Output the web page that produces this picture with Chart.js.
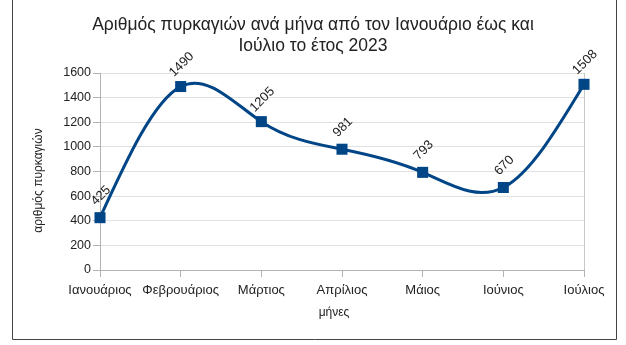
<!DOCTYPE html>
<html>
<head>
<meta charset="utf-8">
<script src="https://cdn.jsdelivr.net/npm/chart.js@4"></script>
<style>
  html, body { margin: 0; padding: 0; background: #fff; }
  #wrap { width: 626px; height: 345px; }
</style>
</head>
<body>
<div id="wrap"><canvas id="myChart" width="626" height="345"></canvas></div>
<script>
const months = ["Ιανουάριος", "Φεβρουάριος", "Μάρτιος", "Απρίλιος", "Μάιος", "Ιούνιος", "Ιούλιος"];
const fires = [425, 1490, 1205, 981, 793, 670, 1508];
const yTicks = [0, 200, 400, 600, 800, 1000, 1200, 1400, 1600];

const chartTitle = ["Αριθμός πυρκαγιών ανά μήνα από τον Ιανουάριο έως και", "Ιούλιο το έτος 2023"];
const xTitle = "μήνες";
const yTitle = "αριθμός πυρκαγιών";

const lineColor = "#004586";
const textColor = "#222";
const fontName = "'Liberation Sans', Arial, sans-serif";

// white page plus the thin frame round the chart
const framePlugin = {
  id: "frame",
  beforeDraw(chart) {
    const ctx = chart.ctx;
    ctx.save();
    ctx.fillStyle = "#fff";
    ctx.fillRect(0, 0, chart.width, chart.height);
    ctx.strokeStyle = "#444";
    ctx.lineWidth = 1;
    ctx.beginPath();
    ctx.moveTo(12.5, 0);
    ctx.lineTo(12.5, 339.5);
    ctx.lineTo(616.5, 339.5);
    ctx.lineTo(616.5, 0);
    ctx.stroke();
    ctx.restore();
  }
};

// the original uses a natural cubic spline; swap chart.js's control points for one
const naturalSpline = {
  id: "naturalSpline",
  beforeDatasetsDraw(chart) {
    const meta = chart.getDatasetMeta(0);
    const pts = meta.data;
    const n = pts.length - 1;
    if (n < 2) return;
    meta.dataset.updateControlPoints(chart.chartArea, "x");
    const h = (pts[n].x - pts[0].x) / n;
    const y = pts.map((p) => p.y);
    // M[i-1] + 4M[i] + M[i+1] = 6(y[i-1] - 2y[i] + y[i+1]) / h^2, ends zero
    const M = new Array(n + 1).fill(0);
    const c = [], d = [];
    for (let i = 1; i < n; i++) {
      const rhs = (6 * (y[i - 1] - 2 * y[i] + y[i + 1])) / (h * h);
      const den = 4 - (i > 1 ? c[i - 1] : 0);
      c[i] = 1 / den;
      d[i] = (rhs - (i > 1 ? d[i - 1] : 0)) / den;
    }
    for (let i = n - 1; i >= 1; i--) {
      M[i] = d[i] - c[i] * M[i + 1];
    }
    pts.forEach((p, i) => {
      let slope;
      if (i < n) {
        slope = (y[i + 1] - y[i]) / h - (h * (2 * M[i] + M[i + 1])) / 6;
      } else {
        slope = (y[n] - y[n - 1]) / h + (h * (M[n - 1] + 2 * M[n])) / 6;
      }
      p.cp1x = p.x - h / 3;
      p.cp1y = p.y - (slope * h) / 3;
      p.cp2x = p.x + h / 3;
      p.cp2y = p.y + (slope * h) / 3;
    });
    meta.dataset._path = undefined;
  }
};

// axis titles sit a little off centre in the original, so place them by hand
const axisTitles = {
  id: "axisTitles",
  afterDraw(chart) {
    const ctx = chart.ctx;
    const area = chart.chartArea;
    ctx.save();
    ctx.font = "12px " + fontName;
    ctx.fillStyle = textColor;
    ctx.textAlign = "center";
    ctx.textBaseline = "middle";
    ctx.fillText(xTitle, (area.left + area.right) / 2 - 8, 313);
    ctx.translate(39, (area.top + area.bottom) / 2 + 9);
    ctx.rotate(-Math.PI / 2);
    ctx.fillText(yTitle, 0, 0);
    ctx.restore();
  }
};

// value labels, turned 45 degrees above each point
const valueLabels = {
  id: "valueLabels",
  afterDatasetsDraw(chart) {
    const ctx = chart.ctx;
    const meta = chart.getDatasetMeta(0);
    ctx.save();
    ctx.font = "13px " + fontName;
    ctx.fillStyle = textColor;
    ctx.textAlign = "center";
    ctx.textBaseline = "middle";
    meta.data.forEach((pt, i) => {
      ctx.save();
      ctx.translate(pt.x + 1, pt.y - 22);
      ctx.rotate(-Math.PI / 4);
      ctx.fillText(String(fires[i]), 0, 0);
      ctx.restore();
    });
    ctx.restore();
  }
};

new Chart("myChart", {
  type: "line",
  data: {
    labels: months,
    datasets: [
      {
        data: fires,
        borderColor: lineColor,
        backgroundColor: lineColor,
        borderWidth: 3,
        tension: 0.4,
        pointStyle: "rect",
        pointRadius: 7.8,
        pointHoverRadius: 7.8,
        pointBorderWidth: 0,
        clip: false,
      },
    ],
  },
  options: {
    responsive: false,
    animation: false,
    devicePixelRatio: 1,
    layout: {
      padding: 0,
    },
    plugins: {
      legend: { display: false },
      tooltip: { enabled: false },
      title: {
        display: true,
        text: chartTitle,
        color: textColor,
        font: { family: fontName, size: 17.5, weight: "normal", lineHeight: 1.2 },
        padding: { top: 15, bottom: 16 },
      },
    },
    scales: {
      x: {
        offset: false,
        grid: {
          color: (c) => (c.index === months.length - 1 ? "#c8c8c8" : "rgba(0,0,0,0)"),
          tickColor: "#b3b3b3",
          tickLength: 7,
        },
        border: { color: "#b3b3b3" },
        ticks: {
          color: textColor,
          font: { family: fontName, size: 13 },
          padding: 6,
          maxRotation: 0,
          autoSkip: false,
        },
        afterFit(scale) {
          scale.height = 75;
        },
      },
      y: {
        min: 0,
        max: 1600,
        afterBuildTicks(scale) {
          scale.ticks = yTicks.map((v) => ({ value: v }));
        },
        grid: {
          color: "#e0e0e0",
          tickColor: "#b3b3b3",
          tickLength: 7,
        },
        border: { color: "#b3b3b3" },
        ticks: {
          color: textColor,
          font: { family: fontName, size: 12.5 },
          padding: 2,
          callback: (v) => String(v),
        },
        afterFit(scale) {
          scale.width = 100;
        },
      },
      // empty box on the right, keeps the plot edge where the original has it
      spacer: {
        type: "linear",
        position: "right",
        grid: { display: false, drawTicks: false },
        border: { display: false },
        ticks: { display: false },
        afterFit(scale) {
          scale.width = 42;
        },
      },
    },
  },
  plugins: [framePlugin, naturalSpline, axisTitles, valueLabels],
});
</script>
</body>
</html>
